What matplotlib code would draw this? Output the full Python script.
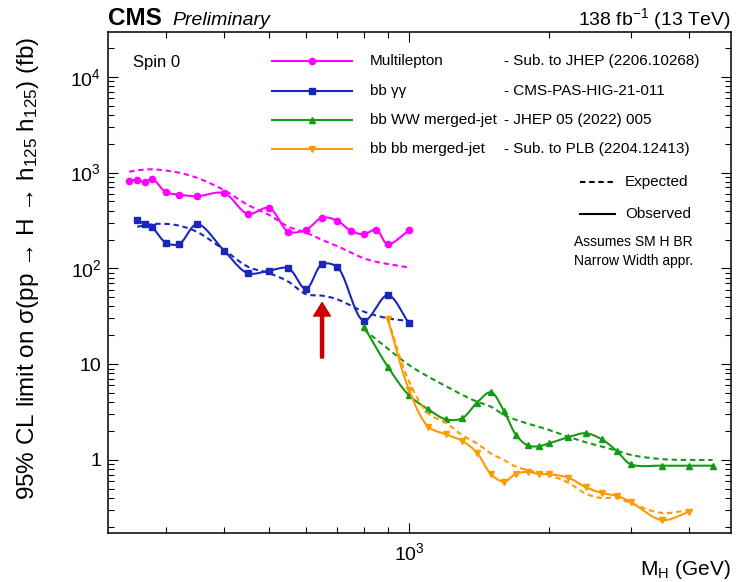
import numpy as np
import matplotlib
matplotlib.use('Agg')
import matplotlib.pyplot as plt
from matplotlib.lines import Line2D
from matplotlib.ticker import FuncFormatter, LogLocator, NullFormatter

plt.rcParams['font.family'] = ['Liberation Sans', 'DejaVu Sans']
plt.rcParams['mathtext.fontset'] = 'custom'
plt.rcParams['mathtext.rm'] = 'Liberation Sans'
plt.rcParams['mathtext.it'] = 'Liberation Sans:italic'
plt.rcParams['mathtext.bf'] = 'Liberation Sans:bold'

# Limits per channel (fb)
ml_mass = [250, 260, 270, 280, 300, 320, 350, 400, 450, 500, 550, 600, 650, 700, 750, 800, 850, 900, 1000]
ml_obs = [823, 837, 792, 857, 623, 588, 566, 608, 370, 427, 242, 252, 338, 315, 246, 227, 254, 179, 250]
ml_exp = [1020, 1057, 1071, 1082, 1048, 997, 880, 655, 459, 361, 272, 236, 198, 171, 146, 127, 117, 111, 102]

gg_mass = [260, 270, 280, 300, 320, 350, 400, 450, 500, 550, 600, 650, 700, 800, 900, 1000]
gg_obs = [320, 291, 268, 185, 179, 289, 153, 89, 94.7, 100, 61, 110, 103.5, 28.5, 52.4, 26.7]
gg_exp = [272, 279, 289, 291, 279, 240, 156, 104, 89, 72.6, 53.7, 51.9, 47.6, 35.3, 30.1, 28.2]

ww_mass = [800, 900, 1000, 1100, 1200, 1300, 1400, 1500, 1600, 1700, 1800, 1900, 2000,
           2200, 2400, 2600, 2800, 3000, 3500, 4000, 4500]
ww_obs = [24.6, 9.42, 4.73, 3.38, 2.66, 2.72, 3.96, 5.09, 3.25, 1.82, 1.42, 1.39, 1.49,
          1.73, 1.90, 1.64, 1.24, 0.902, 0.872, 0.872, 0.872]
ww_exp = [23, 14.5, 9.8, 7.4, 5.9, 4.8, 4.06, 3.6, 2.95, 2.62, 2.4, 2.22, 2.06,
          1.75, 1.53, 1.38, 1.25, 1.13, 1.02, 1.0, 1.0]

bb_mass = [900, 1000, 1100, 1200, 1300, 1400, 1500, 1600, 1700, 1800, 1900, 2000,
           2200, 2400, 2600, 2800, 3000, 3500, 4000]
bb_obs = [29.6, 5.4, 2.23, 1.85, 1.59, 1.19, 0.714, 0.593, 0.72, 0.75, 0.715, 0.71,
          0.654, 0.52, 0.452, 0.422, 0.365, 0.236, 0.286]
bb_exp = [29.6, 6.6, 3.07, 2.45, 1.82, 1.49, 1.17, 1.0, 0.85, 0.786, 0.737, 0.697,
          0.58, 0.445, 0.40, 0.405, 0.353, 0.28, 0.30]

labels = ['Multilepton', 'bb γγ', 'bb WW merged-jet', 'bb bb merged-jet']
refs = ['- Sub. to JHEP (2206.10268)', '- CMS-PAS-HIG-21-011',
        '- JHEP 05 (2022) 005', '- Sub. to PLB (2204.12413)']
colors = ['#ff00ff', '#1a28b8', '#159a15', '#ff9a00']
markers = ['o', 's', '^', 'v']
msizes = [4.5, 4.2, 4.6, 4.6]

arrow_mass = 650
arrow_lo, arrow_hi = 11.6, 44

xmin, xmax = 225.4, 4930
ymin, ymax = 0.175, 29500

W, H = 740, 582
fig = plt.figure(figsize=(W / 100, H / 100), dpi=100)
ax = fig.add_axes([108.3 / W, 1 - 532.5 / H, (731 - 108.3) / W, (532.5 - 31.7) / H])
ax.set_xscale('log')
ax.set_yscale('log')
ax.set_xlim(xmin, xmax)
ax.set_ylim(ymin, ymax)

# pixels per decade, so curves are smoothed like on screen
bbox = ax.get_window_extent()
sx = bbox.width / np.log10(xmax / xmin)
sy = bbox.height / np.log10(ymax / ymin)


def smooth(x, y, n=24, alpha=0.5):
    # centripetal Catmull-Rom through the points in log-log screen space
    P = np.column_stack([np.log10(x) * sx, np.log10(y) * sy])
    P = np.vstack([2 * P[0] - P[1], P, 2 * P[-1] - P[-2]])
    out = []
    for i in range(1, len(P) - 2):
        p0, p1, p2, p3 = P[i - 1], P[i], P[i + 1], P[i + 2]
        t0 = 0.0
        t1 = t0 + max(np.linalg.norm(p1 - p0), 1e-6) ** alpha
        t2 = t1 + max(np.linalg.norm(p2 - p1), 1e-6) ** alpha
        t3 = t2 + max(np.linalg.norm(p3 - p2), 1e-6) ** alpha
        t = np.linspace(t1, t2, n)[:, None]
        a1 = (t1 - t) / (t1 - t0) * p0 + (t - t0) / (t1 - t0) * p1
        a2 = (t2 - t) / (t2 - t1) * p1 + (t - t1) / (t2 - t1) * p2
        a3 = (t3 - t) / (t3 - t2) * p2 + (t - t2) / (t3 - t2) * p3
        b1 = (t2 - t) / (t2 - t0) * a1 + (t - t0) / (t2 - t0) * a2
        b2 = (t3 - t) / (t3 - t1) * a2 + (t - t1) / (t3 - t1) * a3
        c = (t2 - t) / (t2 - t1) * b1 + (t - t1) / (t2 - t1) * b2
        out.append(c if i == 1 else c[1:])
    C = np.vstack(out)
    return 10 ** (C[:, 0] / sx), 10 ** (C[:, 1] / sy)


channels = [(ml_mass, ml_obs, ml_exp), (gg_mass, gg_obs, gg_exp),
            (ww_mass, ww_obs, ww_exp), (bb_mass, bb_obs, bb_exp)]

dash = (2.6, 1.8)
for (m, obs, exp), c, mk, ms in zip(channels, colors, markers, msizes):
    ex, ey = smooth(m, exp)
    ax.plot(ex, ey, color=c, lw=1.5, ls=(0, dash))
    ox, oy = smooth(m, obs)
    ax.plot(ox, oy, color=c, lw=1.5)
    ax.plot(m, obs, ls='none', marker=mk, ms=ms, color=c)

ax.annotate('', xy=(arrow_mass, arrow_hi), xytext=(arrow_mass, arrow_lo),
            arrowprops=dict(arrowstyle='simple,head_length=0.65,head_width=0.8,tail_width=0.15',
                            color='#cc0000', mutation_scale=15, shrinkA=0, shrinkB=0))

# axes style
def fmt(v, pos):
    e = int(round(np.log10(v)))
    if e == 0:
        return '1'
    if e == 1:
        return '10'
    return r'$10^{%d}$' % e


ax.xaxis.set_major_locator(LogLocator(base=10))
ax.yaxis.set_major_locator(LogLocator(base=10))
ax.xaxis.set_major_formatter(FuncFormatter(fmt))
ax.yaxis.set_major_formatter(FuncFormatter(fmt))
ax.xaxis.set_minor_formatter(NullFormatter())
ax.yaxis.set_minor_formatter(NullFormatter())
ax.tick_params(which='both', direction='in', top=True, right=True, width=0.8, labelsize=14)
ax.tick_params(which='major', length=7.5)
ax.tick_params(which='minor', length=4)
ax.tick_params(axis='y', pad=5)
ax.tick_params(axis='x', pad=7)
for s in ax.spines.values():
    s.set_linewidth(1.1)

ax.set_ylabel('95% CL limit on σ(pp → H → h$_{125}$ h$_{125}$) (fb)', fontsize=17.5)
ax.yaxis.set_label_coords(-0.108, 0.527)
fig.text(731 / W, 1 - 575 / H, r'M$_{\mathrm{H}}$ (GeV)', ha='right', va='baseline', fontsize=15)


def fxy(px, py):
    return px / W, 1 - py / H


fig.text(*fxy(108, 25), 'CMS', fontsize=17.5, fontweight='bold', va='baseline')
fig.text(*fxy(172, 25), 'Preliminary', fontsize=14, fontstyle='italic', va='baseline')
fig.text(*fxy(731, 25), r'138 fb$^{-1}$ (13 TeV)', fontsize=14, ha='right', va='baseline')

fig.text(*fxy(133, 63), 'Spin 0', fontsize=12, va='center')

# legend
rows = [61, 90.7, 120, 149.3]
for py, lab, ref, c, mk, ms in zip(rows, labels, refs, colors, markers, msizes):
    x0, y0 = fxy(271.7, py)
    x1, _ = fxy(351.7, py)
    fig.add_artist(Line2D([x0, x1], [y0, y0], color=c, lw=1.5, transform=fig.transFigure))
    fig.add_artist(Line2D([(x0 + x1) / 2], [y0], color=c, marker=mk, ms=ms,
                          transform=fig.transFigure))
    fig.text(*fxy(370, py), lab, fontsize=11, va='center')
    fig.text(*fxy(504, py), ref, fontsize=11, va='center')

for py, lab, ls in [(182.3, 'Expected', (0, dash)), (214.3, 'Observed', '-')]:
    x0, y0 = fxy(580, py)
    x1, _ = fxy(615, py)
    fig.add_artist(Line2D([x0, x1], [y0, y0], color='black', lw=1.5, ls=ls,
                          transform=fig.transFigure))
    fig.text(*fxy(625, py), lab, fontsize=11, va='center')

fig.text(*fxy(574, 241.7), 'Assumes SM H BR', fontsize=10, va='center')
fig.text(*fxy(574, 260.7), 'Narrow Width appr.', fontsize=10, va='center')

fig.savefig('out.png', dpi=100)
